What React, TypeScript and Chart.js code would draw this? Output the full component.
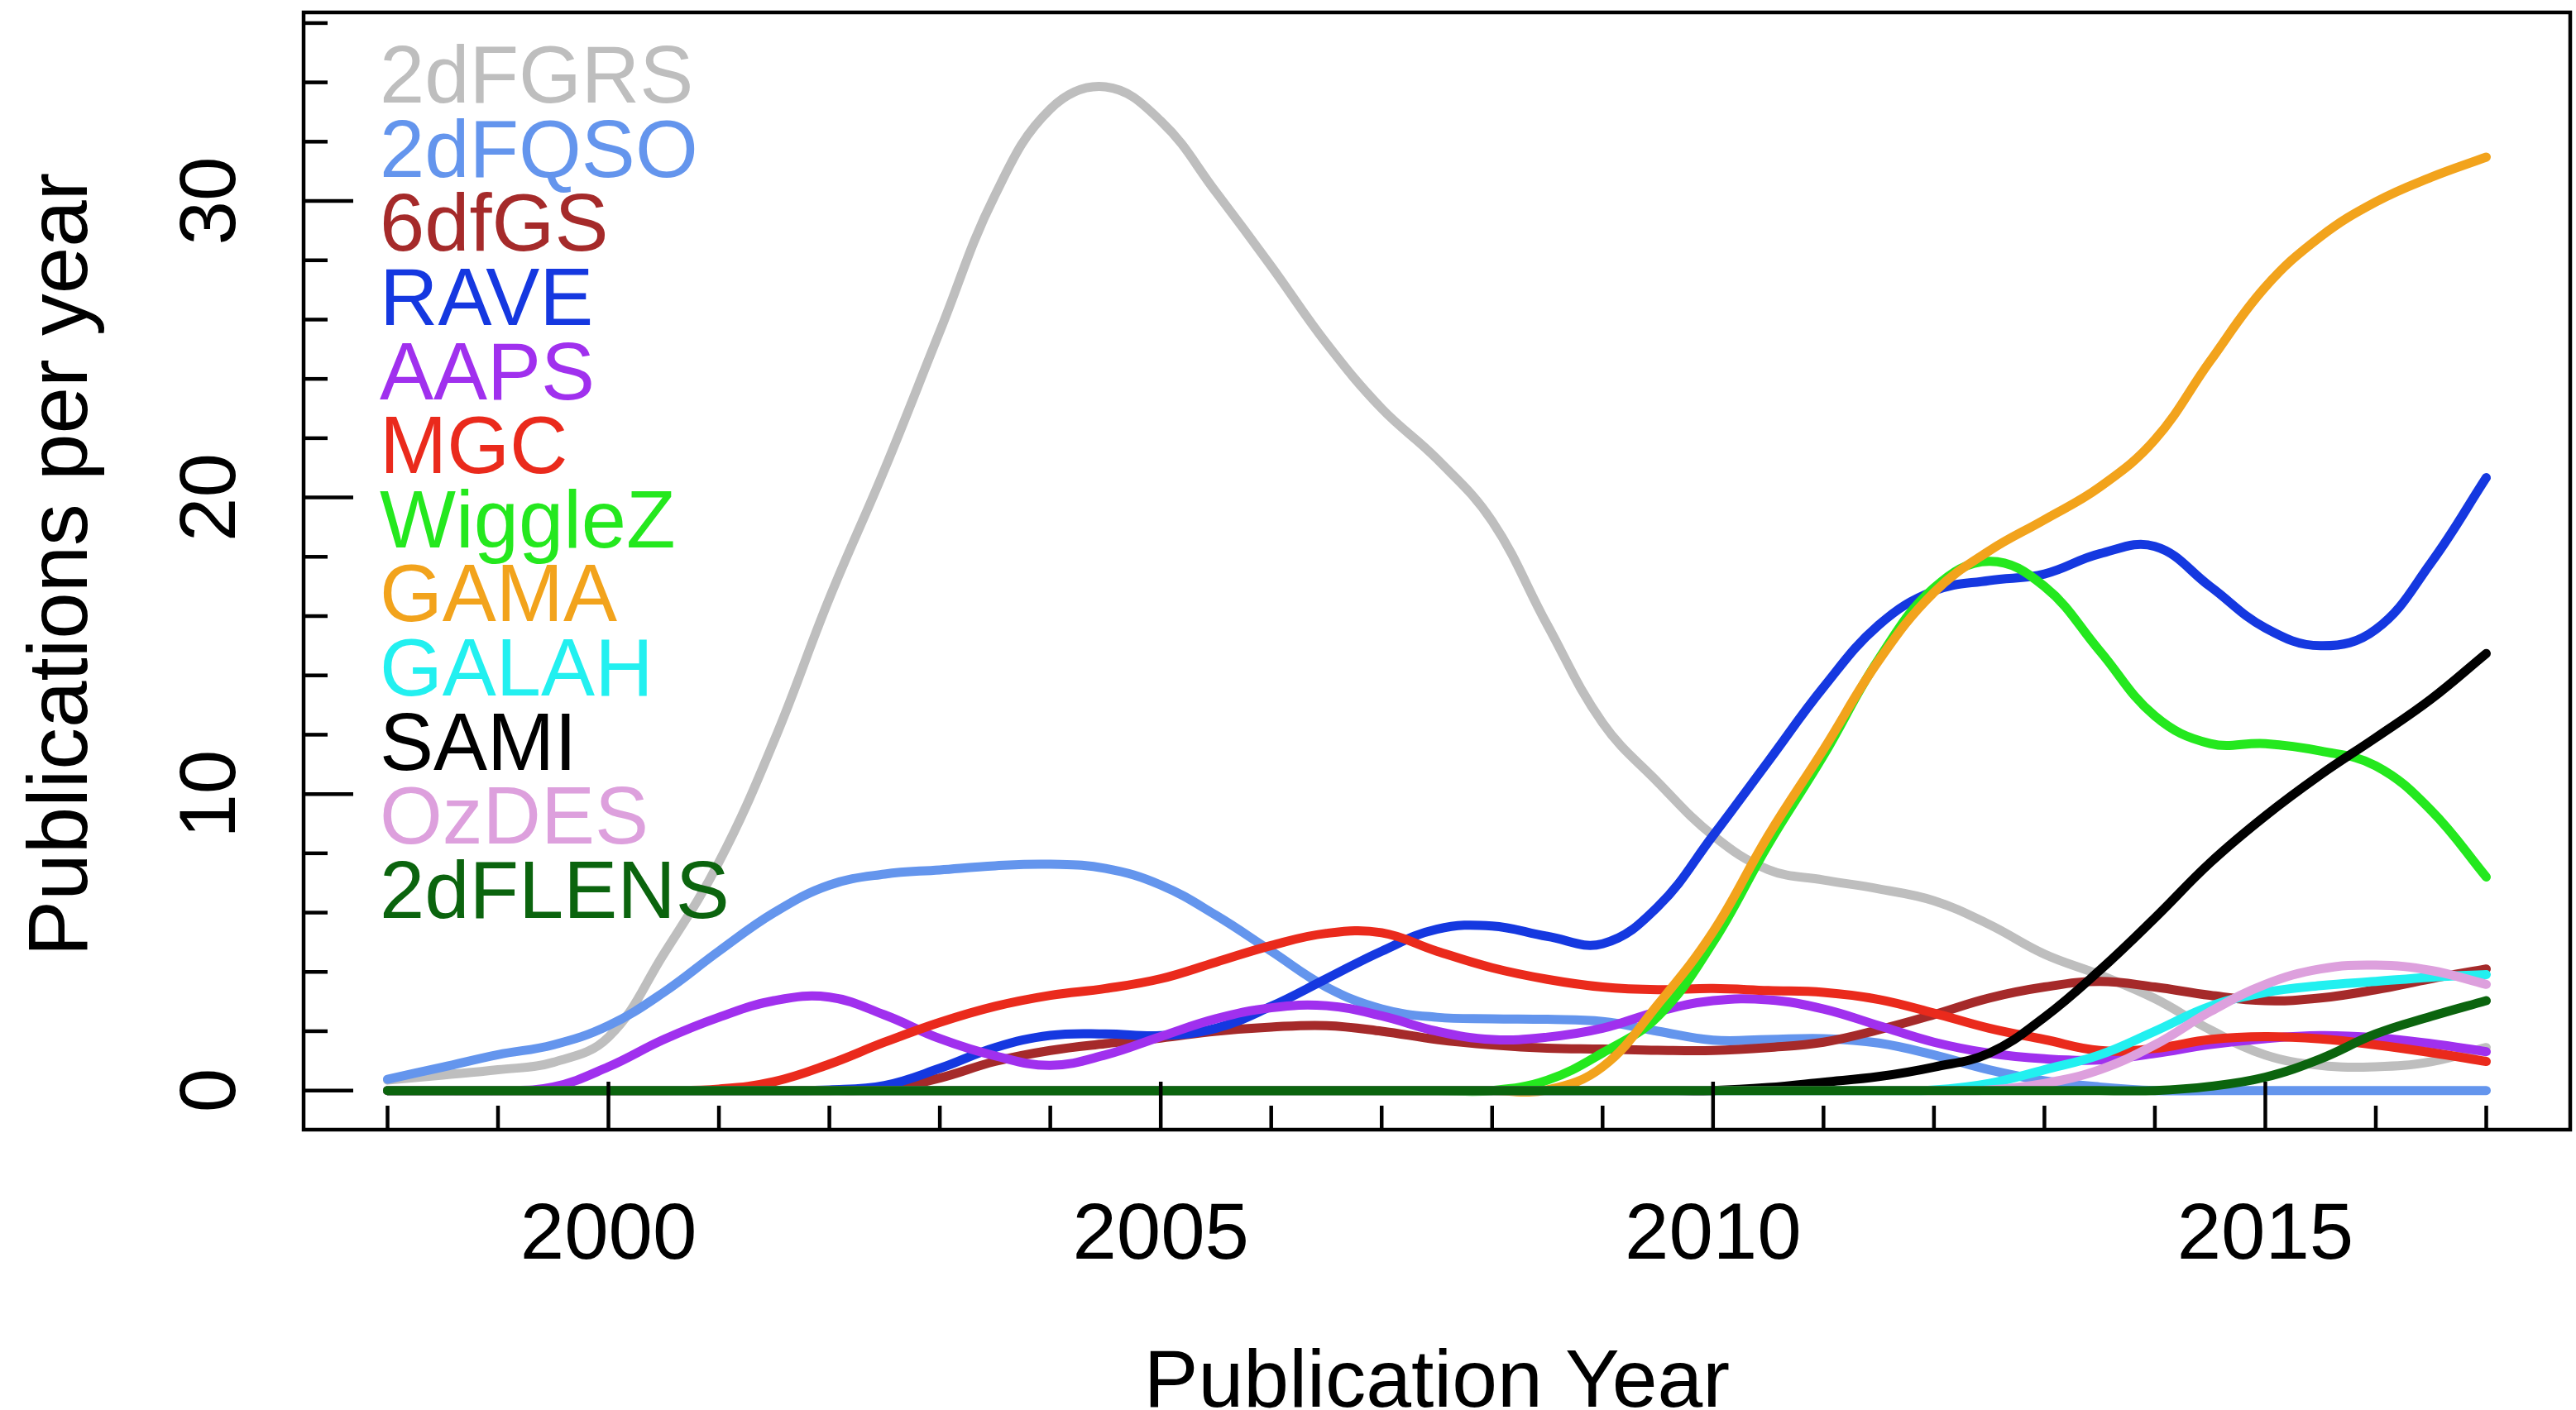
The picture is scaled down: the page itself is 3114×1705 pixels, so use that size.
import React, { useEffect, useRef } from "react";
import { Chart, registerables } from "chart.js";

Chart.register(...registerables);

// Half-year sampling grid
const YEARS = [
  1998, 1998.5, 1999, 1999.5, 2000, 2000.5, 2001, 2001.5, 2002, 2002.5,
  2003, 2003.5, 2004, 2004.5, 2005, 2005.5, 2006, 2006.5, 2007, 2007.5,
  2008, 2008.5, 2009, 2009.5, 2010, 2010.5, 2011, 2011.5, 2012, 2012.5,
  2013, 2013.5, 2014, 2014.5, 2015, 2015.5, 2016, 2016.5, 2017,
];

const SURVEYS = ["2dFGRS", "2dFQSO", "6dfGS", "RAVE", "AAPS", "MGC", "WiggleZ", "GAMA", "GALAH", "SAMI", "OzDES", "2dFLENS"];

const SURVEY_COLORS = [
  "#BEBEBE", "#6495ED", "#A52A2A", "#1538E0", "#A030EE", "#EA2A1C",
  "#24E81E", "#F2A31C", "#22F0F0", "#000000", "#DDA0DD", "#0B640E",
];

const V_2DFGRS = [0.35, 0.52, 0.7, 0.95, 1.8, 4.6, 7.7, 11.8, 16.6, 20.95, 25.6, 30.2, 33.1, 33.85, 32.7, 30.3, 27.8, 25.2, 23.0, 21.3, 19.2, 15.7, 12.4, 10.4, 8.6, 7.45, 7.1, 6.8, 6.4, 5.6, 4.6, 3.9, 3.1, 2.05, 1.2, 0.85, 0.8, 0.97, 1.45];
const V_2DFQSO = [0.38, 0.79, 1.21, 1.54, 2.19, 3.31, 4.7, 6.0, 6.93, 7.3, 7.44, 7.58, 7.63, 7.49, 6.93, 5.91, 4.7, 3.49, 2.75, 2.47, 2.42, 2.4, 2.33, 2.0, 1.7, 1.72, 1.75, 1.6, 1.2, 0.7, 0.33, 0.12, 0, 0, 0, 0, 0, 0, 0];
const V_6DFGS = [0, 0, 0, 0, 0, 0, 0, 0, 0, 0.05, 0.42, 0.98, 1.35, 1.58, 1.77, 2.0, 2.14, 2.19, 2.0, 1.72, 1.54, 1.43, 1.4, 1.36, 1.35, 1.45, 1.63, 2.05, 2.56, 3.12, 3.49, 3.68, 3.49, 3.21, 3.03, 3.12, 3.4, 3.77, 4.1];
const V_RAVE = [0, 0, 0, 0, 0, 0, 0, 0, 0.02, 0.17, 0.75, 1.45, 1.86, 1.91, 1.85, 2.1, 2.84, 3.77, 4.7, 5.44, 5.55, 5.2, 4.95, 6.2, 8.6, 11.1, 13.6, 15.7, 16.85, 17.2, 17.42, 18.1, 18.35, 17.0, 15.6, 15.0, 15.55, 17.8, 20.67];
const V_AAPS = [0, 0, 0, 0.12, 0.8, 1.72, 2.47, 3.03, 3.15, 2.55, 1.75, 1.17, 0.85, 1.2, 1.82, 2.42, 2.79, 2.86, 2.52, 2.0, 1.72, 1.8, 2.1, 2.66, 3.03, 3.06, 2.75, 2.19, 1.63, 1.26, 1.07, 1.03, 1.25, 1.55, 1.75, 1.85, 1.78, 1.58, 1.31];
const V_MGC = [0, 0, 0, 0, 0, 0, 0.05, 0.3, 0.89, 1.63, 2.3, 2.84, 3.21, 3.44, 3.77, 4.33, 4.89, 5.3, 5.32, 4.7, 4.14, 3.75, 3.49, 3.4, 3.44, 3.37, 3.31, 3.07, 2.61, 2.1, 1.72, 1.35, 1.42, 1.72, 1.82, 1.74, 1.54, 1.28, 0.98];
const V_WIGGLEZ = [0, 0, 0, 0, 0, 0, 0, 0, 0, 0, 0, 0, 0, 0, 0, 0, 0, 0, 0, 0, 0, 0.35, 1.27, 2.5, 5.0, 8.3, 11.3, 14.55, 16.95, 17.85, 17.0, 14.83, 12.63, 11.7, 11.7, 11.45, 10.95, 9.45, 7.2];
const V_GAMA = [0, 0, 0, 0, 0, 0, 0, 0, 0, 0, 0, 0, 0, 0, 0, 0, 0, 0, 0, 0, 0, 0.02, 0.8, 2.9, 5.35, 8.6, 11.5, 14.5, 16.8, 18.2, 19.25, 20.35, 21.95, 24.6, 27.1, 28.8, 29.97, 30.8, 31.48];
const V_GALAH = [0, 0, 0, 0, 0, 0, 0, 0, 0, 0, 0, 0, 0, 0, 0, 0, 0, 0, 0, 0, 0, 0, 0, 0, 0, 0, 0, 0, 0.02, 0.24, 0.7, 1.2, 2.0, 2.84, 3.31, 3.54, 3.68, 3.82, 3.91];
const V_SAMI = [0, 0, 0, 0, 0, 0, 0, 0, 0, 0, 0, 0, 0, 0, 0, 0, 0, 0, 0, 0, 0, 0, 0, 0, 0, 0.1, 0.28, 0.47, 0.79, 1.26, 2.47, 4.05, 5.82, 7.68, 9.26, 10.65, 11.9, 13.2, 14.74];
const V_OZDES = [0, 0, 0, 0, 0, 0, 0, 0, 0, 0, 0, 0, 0, 0, 0, 0, 0, 0, 0, 0, 0, 0, 0, 0, 0, 0, 0, 0, 0, 0.02, 0.24, 0.7, 1.54, 2.66, 3.58, 4.1, 4.23, 4.05, 3.58];
const V_2DFLENS = [0, 0, 0, 0, 0, 0, 0, 0, 0, 0, 0, 0, 0, 0, 0, 0, 0, 0, 0, 0, 0, 0, 0, 0, 0, 0, 0, 0, 0, 0, 0, 0, 0, 0.14, 0.45, 1.07, 1.91, 2.5, 3.03];

const SERIES_VALUES = [V_2DFGRS, V_2DFQSO, V_6DFGS, V_RAVE, V_AAPS, V_MGC, V_WIGGLEZ, V_GAMA, V_GALAH, V_SAMI, V_OZDES, V_2DFLENS];

const X_TICKS = [1998, 1999, 2000, 2001, 2002, 2003, 2004, 2005, 2006, 2007, 2008, 2009, 2010, 2011, 2012, 2013, 2014, 2015, 2016, 2017];
const X_LABELS = [2000, 2005, 2010, 2015];
const Y_TICKS = [0, 2, 4, 6, 8, 10, 12, 14, 16, 18, 20, 22, 24, 26, 28, 30, 32, 34, 36];
const Y_LABELS = [0, 10, 20, 30];
const X_TITLE = "Publication Year";
const Y_TITLE = "Publications per year";

const FAMILY = '"Liberation Sans", Arial, Helvetica, sans-serif';
const TICK_FONT = `96px ${FAMILY}`;
const LEGEND_FONT = `97.5px ${FAMILY}`;
const XTITLE_FONT = `98.5px ${FAMILY}`;
const YTITLE_FONT = `101.5px ${FAMILY}`;

const rStylePlugin = {
  id: "rStyle",
  afterDatasetsDraw(chart: any) {
    const { ctx, chartArea: a } = chart;
    ctx.save();
    ctx.font = LEGEND_FONT;
    ctx.textAlign = "left";
    ctx.textBaseline = "alphabetic";
    chart.data.datasets.forEach((ds: any, i: number) => {
      ctx.fillStyle = ds.borderColor;
      ctx.fillText(ds.label, a.left + 92, a.top + 109 + i * 89.64);
    });
    ctx.restore();
  },
  afterDraw(chart: any) {
    const { ctx, chartArea: a, scales } = chart;
    const x = scales.x;
    const y = scales.y;
    ctx.save();
    ctx.strokeStyle = "#000";
    ctx.lineWidth = 4.5;
    ctx.lineCap = "butt";
    ctx.strokeRect(a.left, a.top, a.right - a.left, a.bottom - a.top);
    for (const t of X_TICKS) {
      const px = x.getPixelForValue(t);
      const len = X_LABELS.includes(t) ? 58 : 29;
      ctx.beginPath();
      ctx.moveTo(px, a.bottom);
      ctx.lineTo(px, a.bottom - len);
      ctx.stroke();
    }
    for (const t of Y_TICKS) {
      const py = y.getPixelForValue(t);
      const len = Y_LABELS.includes(t) ? 60 : 29;
      ctx.beginPath();
      ctx.moveTo(a.left, py);
      ctx.lineTo(a.left + len, py);
      ctx.stroke();
    }
    ctx.fillStyle = "#000";
    ctx.textAlign = "center";
    ctx.textBaseline = "alphabetic";
    ctx.font = TICK_FONT;
    for (const t of X_LABELS) {
      ctx.fillText(String(t), x.getPixelForValue(t), a.bottom + 156);
    }
    for (const t of Y_LABELS) {
      ctx.save();
      ctx.translate(a.left - 83, y.getPixelForValue(t));
      ctx.rotate(-Math.PI / 2);
      ctx.fillText(String(t), 0, 0);
      ctx.restore();
    }
    ctx.font = XTITLE_FONT;
    ctx.fillText(X_TITLE, (a.left + a.right) / 2, a.bottom + 335);
    ctx.save();
    ctx.font = YTITLE_FONT;
    ctx.translate(a.left - 262, (a.top + a.bottom) / 2 - 8);
    ctx.rotate(-Math.PI / 2);
    ctx.fillText(Y_TITLE, 0, 0);
    ctx.restore();
    ctx.restore();
  },
};

export default function App() {
  const canvasRef = useRef<HTMLCanvasElement | null>(null);

  useEffect(() => {
    const canvas = canvasRef.current;
    if (!canvas) return;
    const n = SURVEYS.length;
    const chart = new Chart(canvas, {
      type: "line",
      data: {
        datasets: SURVEYS.map((name, i) => ({
          label: name,
          data: YEARS.map((yr, j) => ({ x: yr, y: SERIES_VALUES[i][j] })),
          borderColor: SURVEY_COLORS[i],
          backgroundColor: SURVEY_COLORS[i],
          borderWidth: 11,
          pointRadius: 0,
          pointHoverRadius: 0,
          fill: false,
          tension: 0.4,
          borderCapStyle: "round",
          borderJoinStyle: "round",
          order: n - i,
        })),
      },
      options: {
        responsive: false,
        animation: false,
        events: [],
        layout: { padding: { left: 367, top: 15, right: 7, bottom: 339 } },
        scales: {
          x: { type: "linear", min: 1997.24, max: 2017.76, display: false },
          y: { type: "linear", min: -1.32, max: 36.36, display: false },
        },
        plugins: {
          legend: { display: false },
          tooltip: { enabled: false },
        },
      },
      plugins: [rStylePlugin],
    } as any);
    return () => chart.destroy();
  }, []);

  return (
    <div style={{ position: "absolute", left: 0, top: 0, width: 3114, height: 1705, background: "#fff" }}>
      <canvas ref={canvasRef} width={3114} height={1705} style={{ display: "block", width: 3114, height: 1705 }} />
    </div>
  );
}
